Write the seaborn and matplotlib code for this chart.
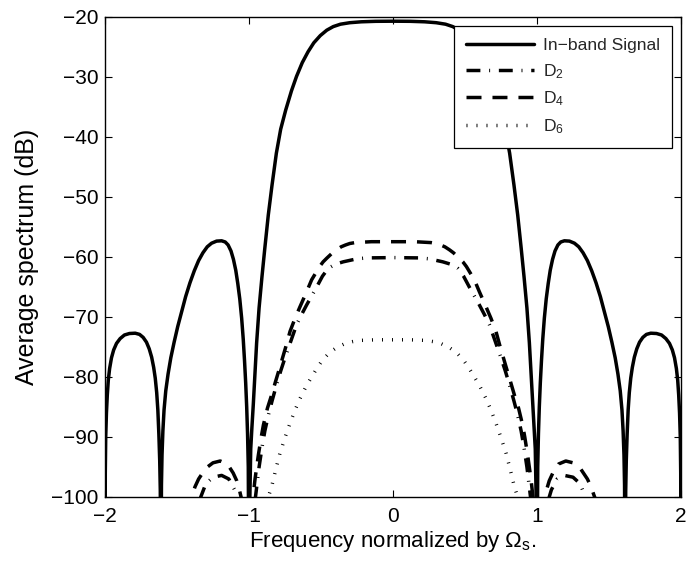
import numpy as np
import pandas as pd
import matplotlib
matplotlib.use("Agg")
import matplotlib.pyplot as plt
import seaborn as sns

# ---- data: normalized frequency vs. average spectrum (dB) ----
inband_x = [-2.000, -1.998, -1.995, -1.990, -1.984, -1.977, -1.968, -1.955, -1.940, -1.920,
            -1.895, -1.865, -1.830, -1.790, -1.760, -1.735, -1.712, -1.693, -1.676, -1.662,
            -1.651, -1.641, -1.633, -1.626, -1.620, -1.616, -1.612, -1.608, -1.604, -1.598,
            -1.590, -1.578, -1.562, -1.543, -1.520, -1.495, -1.470, -1.440, -1.410, -1.380,
            -1.350, -1.320, -1.290, -1.260, -1.225, -1.190, -1.165, -1.145, -1.125, -1.108,
            -1.092, -1.078, -1.064, -1.051, -1.040, -1.031, -1.023, -1.016, -1.010, -1.005,
            -1.000, -0.994, -0.988, -0.980, -0.970, -0.959, -0.947, -0.930, -0.910, -0.890,
            -0.866, -0.840, -0.810, -0.780, -0.745, -0.705, -0.670, -0.630, -0.590, -0.550,
            -0.505, -0.460, -0.415, -0.365, -0.300, -0.220, -0.120, 0.000,
            0.120, 0.220, 0.300, 0.365, 0.415, 0.460, 0.505, 0.550, 0.590, 0.630,
            0.670, 0.705, 0.745, 0.780, 0.810, 0.840, 0.866, 0.890, 0.910, 0.930,
            0.947, 0.959, 0.970, 0.980, 0.988, 0.994, 1.000, 1.005, 1.010, 1.016,
            1.023, 1.031, 1.040, 1.051, 1.064, 1.078, 1.092, 1.108, 1.125, 1.145,
            1.165, 1.190, 1.225, 1.260, 1.290, 1.320, 1.350, 1.380, 1.410, 1.440,
            1.470, 1.495, 1.520, 1.543, 1.562, 1.578, 1.590, 1.598, 1.604, 1.608,
            1.612, 1.616, 1.620, 1.626, 1.633, 1.641, 1.651, 1.662, 1.676, 1.693,
            1.712, 1.735, 1.760, 1.790, 1.830, 1.865, 1.895, 1.920, 1.940, 1.955,
            1.968, 1.977, 1.984, 1.990, 1.995, 1.998, 2.000]
inband_y = [-120.0, -96.0, -90.0, -86.0, -83.0, -80.5, -78.6, -76.8, -75.5, -74.4,
            -73.6, -73.0, -72.75, -72.7, -72.9, -73.4, -74.2, -75.3, -76.7, -78.4,
            -80.2, -82.6, -85.5, -89.5, -94.0, -99.0, -120.0, -98.0, -93.0, -89.0,
            -85.5, -82.3, -79.5, -76.8, -74.2, -71.6, -69.3, -66.6, -64.3, -62.3,
            -60.6, -59.3, -58.3, -57.7, -57.35, -57.3, -57.5, -58.0, -59.0, -60.4,
            -62.2, -64.4, -67.0, -70.2, -73.7, -77.3, -81.0, -85.0, -89.5, -95.0,
            -120.0, -100.0, -92.0, -88.5, -84.5, -79.5, -74.3, -68.5, -63.3, -58.5,
            -53.0, -48.0, -42.7, -38.7, -35.5, -32.3, -29.9, -27.6, -25.8, -24.3,
            -23.1, -22.2, -21.6, -21.2, -20.95, -20.8, -20.72, -20.7,
            -20.72, -20.8, -20.95, -21.2, -21.6, -22.2, -23.1, -24.3, -25.8, -27.6,
            -29.9, -32.3, -35.5, -38.7, -42.7, -48.0, -53.0, -58.5, -63.3, -68.5,
            -74.3, -79.5, -84.5, -88.5, -92.0, -100.0, -120.0, -95.0, -89.5, -85.0,
            -81.0, -77.3, -73.7, -70.2, -67.0, -64.4, -62.2, -60.4, -59.0, -58.0,
            -57.5, -57.3, -57.35, -57.7, -58.3, -59.3, -60.6, -62.3, -64.3, -66.6,
            -69.3, -71.6, -74.2, -76.8, -79.5, -82.3, -85.5, -89.0, -93.0, -98.0,
            -120.0, -99.0, -94.0, -89.5, -85.5, -82.6, -80.2, -78.4, -76.7, -75.3,
            -74.2, -73.4, -72.9, -72.7, -72.75, -73.0, -73.6, -74.4, -75.5, -76.8,
            -78.6, -80.5, -83.0, -86.0, -90.0, -96.0, -120.0]

d2_x = [-1.380, -1.350, -1.335, -1.300, -1.250, -1.190, -1.140, -1.100, -1.085, -1.070,
        -1.020, -0.960, -0.955, -0.930, -0.910, -0.890, -0.865, -0.840, -0.810, -0.780,
        -0.750, -0.715, -0.670, -0.635, -0.600, -0.565, -0.530, -0.490, -0.450, -0.400,
        -0.345, -0.250, -0.180, 0.000,
        0.180, 0.250, 0.345, 0.400, 0.450, 0.490, 0.530, 0.565, 0.600, 0.635,
        0.670, 0.715, 0.750, 0.780, 0.810, 0.840, 0.865, 0.890, 0.910, 0.930,
        0.955, 0.960, 1.020, 1.070, 1.085, 1.100, 1.140, 1.190, 1.250, 1.300,
        1.335, 1.350, 1.380]
d2_y = [-112.0, -101.5, -100.0, -97.8, -96.7, -96.4, -97.0, -98.8, -100.0, -103.0,
        -125.0, -103.0, -100.0, -95.0, -91.8, -89.0, -86.3, -84.0, -81.4, -79.0,
        -76.8, -74.4, -71.3, -69.6, -68.0, -66.5, -65.0, -63.2, -61.9, -61.2,
        -60.8, -60.3, -60.15, -60.1,
        -60.15, -60.3, -60.8, -61.2, -61.9, -63.2, -65.0, -66.5, -68.0, -69.6,
        -71.3, -74.4, -76.8, -79.0, -81.4, -84.0, -86.3, -89.0, -91.8, -95.0,
        -100.0, -103.0, -125.0, -103.0, -100.0, -98.8, -97.0, -96.4, -96.7, -97.8,
        -100.0, -101.5, -112.0]

d4_x = [-1.460, -1.420, -1.400, -1.375, -1.350, -1.300, -1.250, -1.200, -1.150, -1.110,
        -1.085, -1.070, -1.055, -1.040, -1.010, -0.975, -0.972, -0.958, -0.935, -0.915,
        -0.900, -0.872, -0.843, -0.815, -0.785, -0.740, -0.715, -0.680, -0.646, -0.600,
        -0.565, -0.535, -0.510, -0.485, -0.460, -0.420, -0.392, -0.360, -0.330, -0.300,
        -0.264, -0.150, 0.000,
        0.150, 0.264, 0.300, 0.330, 0.360, 0.392, 0.420, 0.460, 0.485, 0.510,
        0.535, 0.565, 0.600, 0.646, 0.680, 0.715, 0.740, 0.785, 0.815, 0.843,
        0.872, 0.900, 0.915, 0.935, 0.958, 0.972, 0.975, 1.010, 1.040, 1.055,
        1.070, 1.085, 1.110, 1.150, 1.200, 1.250, 1.300, 1.350, 1.375, 1.400,
        1.420, 1.460]
d4_y = [-115.0, -101.0, -100.0, -98.3, -97.0, -95.2, -94.3, -94.0, -94.5, -96.0,
        -97.3, -98.5, -100.0, -104.0, -125.0, -101.0, -100.0, -97.0, -93.0, -90.0,
        -88.0, -85.2, -83.0, -80.7, -78.3, -74.6, -72.4, -70.2, -68.3, -65.8,
        -63.8, -62.6, -61.6, -60.8, -60.2, -59.3, -58.8, -58.3, -58.0, -57.75,
        -57.6, -57.45, -57.45,
        -57.45, -57.6, -57.75, -58.0, -58.3, -58.8, -59.3, -60.2, -60.8, -61.6,
        -62.6, -63.8, -65.8, -68.3, -70.2, -72.4, -74.6, -78.3, -80.7, -83.0,
        -85.2, -88.0, -90.0, -93.0, -97.0, -100.0, -101.0, -125.0, -104.0, -100.0,
        -98.5, -97.3, -96.0, -94.5, -94.0, -94.3, -95.2, -97.0, -98.3, -100.0,
        -101.0, -115.0]

d6_x = [-0.890, -0.866, -0.843, -0.815, -0.785, -0.750, -0.715, -0.680, -0.646, -0.600,
        -0.565, -0.530, -0.490, -0.440, -0.385, -0.330, -0.280, -0.230, -0.120, 0.000,
        0.120, 0.230, 0.280, 0.330, 0.385, 0.440, 0.490, 0.530, 0.565, 0.600,
        0.646, 0.680, 0.715, 0.750, 0.785, 0.815, 0.843, 0.866, 0.890]
d6_y = [-106.0, -100.0, -98.3, -95.5, -92.7, -90.1, -87.7, -85.5, -83.6, -81.4,
        -80.0, -78.6, -77.2, -75.9, -75.0, -74.4, -74.1, -73.9, -73.8, -73.8,
        -73.8, -73.9, -74.1, -74.4, -75.0, -75.9, -77.2, -78.6, -80.0, -81.4,
        -83.6, -85.5, -87.7, -90.1, -92.7, -95.5, -98.3, -100.0, -106.0]

series_labels = ["In\u2212band Signal", r"D$_\mathregular{2}$", r"D$_\mathregular{4}$", r"D$_\mathregular{6}$"]
x_ticks = [-2, -1, 0, 1, 2]
y_ticks = [-100, -90, -80, -70, -60, -50, -40, -30, -20]

# ---- style ----
sns.set_theme(style="white")
plt.rcParams["font.family"] = ["Liberation Sans", "DejaVu Sans"]
plt.rcParams["mathtext.fontset"] = "custom"
plt.rcParams["mathtext.rm"] = "Liberation Sans"
plt.rcParams["mathtext.it"] = "Liberation Sans:italic"
plt.rcParams["lines.scale_dashes"] = False

TICK_FS = 15
XLABEL_FS = 16
YLABEL_FS = 18
LEG_FS = 12.6
LW = 2.5

fig = plt.figure(figsize=(6.88, 5.64), dpi=100)
ax = fig.add_axes([105 / 688, 1 - 497 / 564, 576 / 688, 480 / 564])

styles = [
    dict(linestyle="-"),
    dict(linestyle=(0, (10.0, 6.3, 0.7, 6.3)), dash_capstyle="butt"),
    dict(linestyle=(0, (10.8, 7.9)), dash_capstyle="butt"),
    dict(linestyle=(0, (0.7, 6.5)), dash_capstyle="butt"),
]
data = [(inband_x, inband_y), (d2_x, d2_y), (d4_x, d4_y), (d6_x, d6_y)]

for (xs, ys), lab, st in zip(data, series_labels, styles):
    df = pd.DataFrame({"f": xs, "p": ys})
    sns.lineplot(data=df, x="f", y="p", ax=ax, color="black", linewidth=LW,
                 label=lab, sort=False, estimator=None, **st)

ax.set_xlim(-2, 2)
ax.set_ylim(-100, -20)
ax.set_xticks(x_ticks)
ax.set_yticks(y_ticks)
ax.tick_params(direction="in", length=5, width=0.8, color="black",
               top=True, right=True, bottom=True, left=True,
               labelsize=TICK_FS, labelcolor="black")
ax.tick_params(axis="x", pad=7)
ax.tick_params(axis="y", pad=4.5)
for sp in ax.spines.values():
    sp.set_color("black")
    sp.set_linewidth(1.0)

ax.set_xlabel("Frequency normalized by \u03a9$_\\mathregular{s}$.", fontsize=XLABEL_FS,
              color="black", labelpad=2)
ax.set_ylabel("Average spectrum (dB)", fontsize=YLABEL_FS, color="black", labelpad=9)

leg = ax.legend(loc="upper right", fontsize=LEG_FS, frameon=True, fancybox=False,
                framealpha=1, edgecolor="black", handlelength=3.9,
                handletextpad=0.5, labelspacing=0.5, borderpad=0.7,
                borderaxespad=0.5)
leg.get_frame().set_linewidth(0.9)

fig.savefig("out.png", dpi=100, facecolor="white")
